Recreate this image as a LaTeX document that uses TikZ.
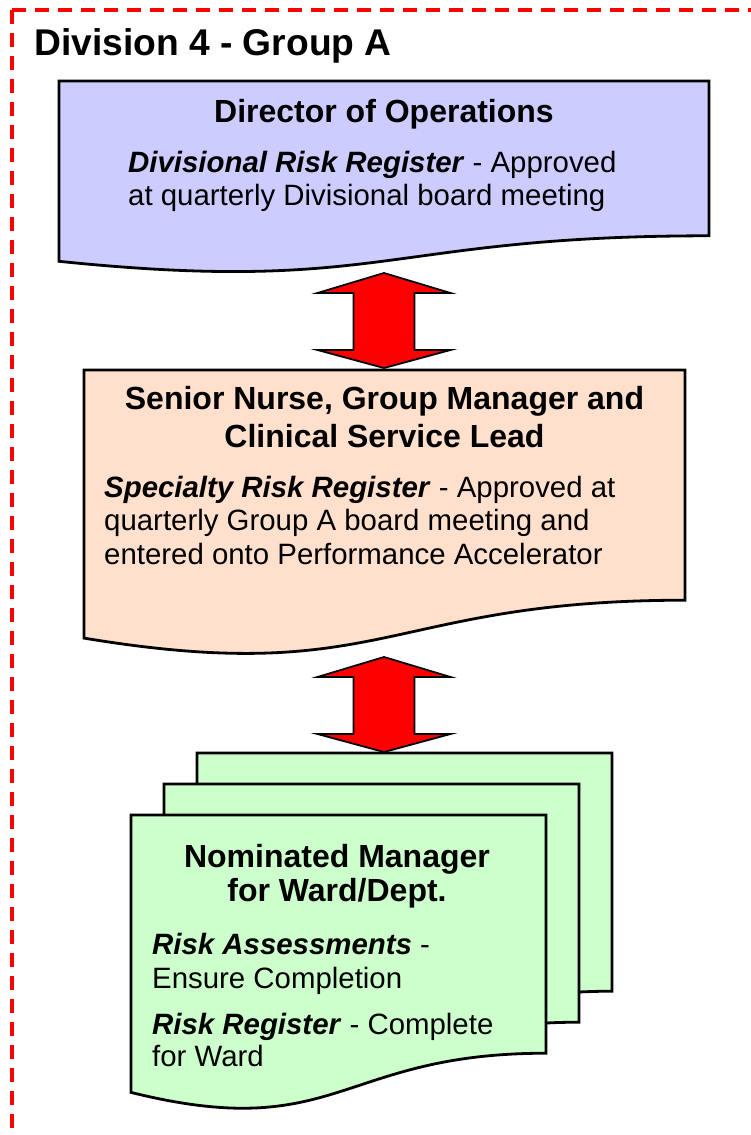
\documentclass[tikz,border=0pt]{standalone}
\usepackage{fontspec}
\setmainfont{Liberation Sans}
\definecolor{lav}{RGB}{204,204,255}
\definecolor{peach}{RGB}{255,224,204}
\definecolor{mint}{RGB}{204,255,204}
\tikzset{
  docshape/.style={draw=black, line width=2.8pt, line join=miter},
  blockarrow/.style={draw=black, fill=red, line width=1.8pt, line join=miter},
  dashborder/.style={draw=red, line width=3.6pt, dash pattern=on 14pt off 9pt},
  ttl/.style={font=\fontsize{32}{38}\selectfont\bfseries, inner sep=0pt, anchor=base},
  bdy/.style={font=\fontsize{29.4}{33}\selectfont, inner sep=0pt, anchor=base west},
  heading/.style={font=\fontsize{37.2}{40}\selectfont\bfseries, inner sep=0pt, anchor=base west}
}
\begin{document}
\begin{tikzpicture}[x=1pt,y=-1pt]
\useasboundingbox (0,0) rectangle (751,1135);
\clip (0,0) rectangle (751,1135);
\fill[white] (0,0) rectangle (751,1135);

% dashed frame (extends beyond the picture)
\draw[dashborder] (12,10) -- (12,1150);
\draw[dashborder] (12,10) -- (770,10);

\node[heading] (title) at (34,55) {Division 4 - Group A};

% Box 1: Director of Operations
\draw[docshape, fill=lav] (59,81) -- (709,81) -- (709,235.8)
  .. controls (384,235.8) and (384,294.7) .. (59,261.3) -- cycle;
\node[ttl] (d0) at (384,122) {Director of Operations};
\node[bdy] (d1) at (128,172) {\textbf{\textit{Divisional Risk Register}} - Approved};
\node[bdy] (d2) at (128,205) {at quarterly Divisional board meeting};

% Box 2: Senior Nurse
\draw[docshape, fill=peach] (84,370) -- (685,370) -- (685,600.2)
  .. controls (384.5,600.2) and (384.5,687.9) .. (84,638.1) -- cycle;
\node[ttl] (s0a) at (384.5,409) {Senior Nurse, Group Manager and};
\node[ttl] (s0b) at (384.5,447) {Clinical Service Lead};
\node[bdy] (s1) at (104,497) {\textbf{\textit{Specialty Risk Register}} - Approved at};
\node[bdy] (s2) at (104,530.5) {quarterly Group A board meeting and};
\node[bdy] (s3) at (104,564) {entered onto Performance Accelerator};

% Box 3: multi-document
\draw[docshape, fill=mint] (197,753) -- (612,753) -- (612,991.2)
  .. controls (404.5,991.2) and (404.5,1081.9) .. (197,1030.4) -- cycle;
\draw[docshape, fill=mint] (164,784) -- (579,784) -- (579,1022.2)
  .. controls (371.5,1022.2) and (371.5,1112.9) .. (164,1061.4) -- cycle;
\draw[docshape, fill=mint] (131,815) -- (546,815) -- (546,1053.2)
  .. controls (338.5,1053.2) and (338.5,1143.9) .. (131,1092.4) -- cycle;
\node[ttl] (n0a) at (337,867) {Nominated Manager};
\node[ttl] (n0b) at (337,901) {for Ward/Dept.};
\node[bdy] (n1) at (152,954) {\textbf{\textit{Risk Assessments}} -};
\node[bdy] (n2) at (152,988) {Ensure Completion};
\node[bdy] (n3) at (152,1034) {\textbf{\textit{Risk Register}} - Complete};
\node[bdy] (n4) at (152,1066) {for Ward};

% double block arrows
\coordinate (a1top) at (384,273);
\coordinate (a1bot) at (384,368);
\draw[blockarrow] (a1top) -- ++(66.5,20) -- ++(-36,0) -- ++(0,57) -- ++(36,0)
  -- (a1bot) -- ++(-66.5,-18) -- ++(36,0) -- ++(0,-57) -- ++(-36,0) -- cycle;

\coordinate (a2top) at (384,657);
\coordinate (a2bot) at (384,752);
\draw[blockarrow] (a2top) -- ++(66.5,20) -- ++(-36,0) -- ++(0,57) -- ++(36,0)
  -- (a2bot) -- ++(-66.5,-18) -- ++(36,0) -- ++(0,-57) -- ++(-36,0) -- cycle;
\end{tikzpicture}
\end{document}
